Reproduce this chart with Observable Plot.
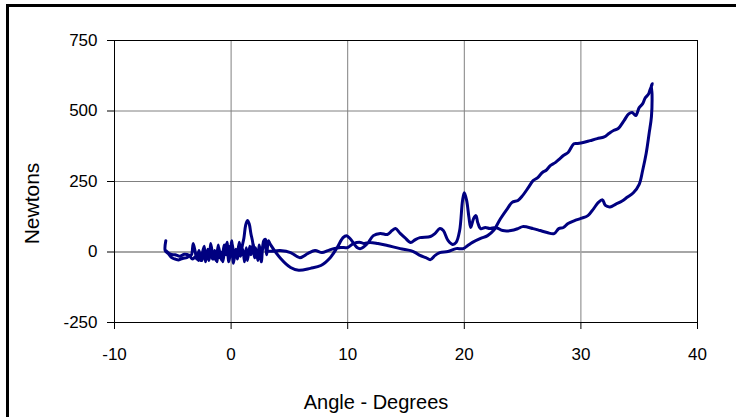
<!DOCTYPE html>
<html>
<head>
<meta charset="utf-8">
<script src="https://cdn.jsdelivr.net/npm/d3@7"></script>
<script src="https://cdn.jsdelivr.net/npm/@observablehq/plot@0.6"></script>
<style>
  html, body { margin: 0; padding: 0; background: #fff; }
  #wrap { position: relative; width: 736px; height: 417px; overflow: hidden; }
  #wrap svg { position: absolute; left: 0; top: 0; }
  #edge { position: absolute; left: 6px; top: 4px; right: -10px; bottom: -10px;
          border-left: 3px solid #000; border-top: 3px solid #000; pointer-events: none; }
</style>
</head>
<body>
<div id="wrap"><div id="edge"></div></div>
<script>
// Loop, in drawing order.
// 1) noisy start, going right from -5.6 deg
const angleStart = [-5.6,-5.65,-5.4,-5.1,-4.8,-4.5,-4.1,-3.8,-3.55,
  -3.4,-3.25,-3.05,-2.95,-2.75,-2.6,-2.5,-2.3,-2.2,-2.0,-1.85,-1.75,-1.5,-1.4,-1.2,-1.1,-0.95,-0.8,-0.6,-0.5,-0.35,-0.2,-0.05,0.05,0.2,0.4,0.5,0.7,0.85,0.95,1.1,1.25,1.4,1.55,1.7,1.85,2.0,2.1,2.3,2.4,2.6,2.7,2.9,3.05,3.2,3.35];
const forceStart = [40,5,-5,-20,-25,-28,-22,-20,-12,
  -10,30,-5,-25,5,-30,-10,20,-35,10,-15,30,-25,5,-35,20,-5,-30,25,-10,35,-35,0,40,-40,10,-20,35,-5,20,50,95,112,100,65,35,-20,15,-30,25,-35,10,35,-10,40,28];
// 2) lower path 4..20 deg, spike at 20, lower branch up to the peak at 36 deg
const angleRise = [4.25,5.1,5.8,6.8,7.7,8.5,9.1,9.6,9.9,10.2,10.8,11.1,11.7,12.2,12.8,13.4,13.8,14.1,14.5,14.9,15.4,15.8,16.2,17.1,17.5,17.9,18.2,18.6,19.0,19.3,19.6,19.85,20.0,20.2,20.4,20.55,20.8,21.0,21.15,21.4,21.8,22.2,22.7,23.3,24.0,24.6,25.0,25.9,26.5,27.1,27.7,28.1,28.5,28.9,29.5,30.0,30.6,31.1,31.5,31.85,32.1,32.5,33.0,33.5,34.0,34.5,35.0,35.3,35.6,35.85,36.05,36.1,36.05,36.14];
const forceRise = [-23,-55,-65,-58,-48,-20,16,51,58,48,16,12,30,58,66,62,76,83,66,51,34,44,51,55,66,83,76,41,27,34,76,183,210,183,122,87,119,129,105,83,87,83,87,76,76,83,90,83,76,69,65,83,87,101,112,119,129,154,176,185,165,160,170,180,195,210,240,290,350,420,480,560,590,597];
// 3) upper branch back down to 22 deg, then the path near zero back to 3 deg
const angleFall = [35.9,35.8,35.5,35.3,35.0,34.7,34.4,34.1,33.7,33.2,32.8,32.4,32.0,31.4,30.8,30.2,29.7,29.4,28.9,28.5,28.2,27.8,27.4,27.0,26.7,26.3,25.9,25.5,25.0,24.6,24.1,23.7,23.1,22.5,22.0,21.4,20.7,20.3,19.9,19.3,18.6,17.9,17.5,17.1,16.7,16.2,15.8,15.4,14.5,13.4,12.6,11.9,11.4,11.1,10.5,10.0,9.4,8.8,8.3,7.8,7.2,6.6,5.9,5.1,4.2,3.1];
const forceFall = [572,560,545,526,512,484,495,490,466,438,431,420,408,402,395,388,385,384,353,342,331,317,307,289,282,264,253,229,200,183,176,154,118,76,58,48,34,23,12,12,2,-2,-12,-27,-20,-12,-2,5,12,23,30,34,30,34,30,16,16,12,5,-2,5,-5,-20,-2,5,5];
// 4) noisy return to -5.6 deg
const angleEnd = [2.95,2.8,2.6,2.5,2.3,2.2,2.05,1.9,1.7,1.6,1.4,1.3,1.15,1.0,0.8,0.7,0.55,0.35,0.25,0.1,-0.1,-0.2,-0.4,-0.5,-0.7,-0.8,-1.0,-1.1,-1.3,-1.4,-1.6,-1.7,-1.9,-2.0,-2.2,-2.3,-2.5,-2.6,-2.8,-3.0,-3.3,-3.6,-4.0,-4.4,-4.8,-5.2,-5.6];
const forceEnd = [45,40,-15,15,-30,5,-20,30,-10,20,-30,15,-35,10,-15,30,-25,5,-25,30,-20,20,-10,25,-35,0,-20,25,-30,-5,-25,15,-30,0,-25,5,-30,-10,-30,-15,-25,-12,-8,-15,-10,-8,5];

const xTicks = [-10, 0, 10, 20, 30, 40];
const yTicks = [-250, 0, 250, 500, 750];
const xTitle = "Angle - Degrees";
const yTitle = "Newtons";

const angle = [...angleStart, ...angleRise, ...angleFall, ...angleEnd];
const newtons = [...forceStart, ...forceRise, ...forceFall, ...forceEnd];
const data = angle.map((a, i) => ({angle: a, newtons: newtons[i]}));
const font = "'Liberation Sans', Arial, sans-serif";

const chart = Plot.plot({
  width: 736,
  height: 417,
  marginLeft: 114,
  marginRight: 39,
  marginTop: 40,
  marginBottom: 95,
  style: {fontFamily: font, background: "#fff", color: "#000"},
  x: {domain: [-10, 40], ticks: xTicks, label: null},
  y: {domain: [-250, 750], ticks: yTicks, label: null},
  marks: [
    Plot.gridX(xTicks.slice(1, -1), {stroke: "#808080", strokeOpacity: 1}),
    Plot.gridY(yTicks.filter(d => d > 0 && d < 750), {stroke: "#808080", strokeOpacity: 1}),
    Plot.ruleY([0], {stroke: "#a6a6a6", strokeWidth: 2}),
    Plot.frame({stroke: "#000"}),
    Plot.line(data, {x: "angle", y: "newtons", stroke: "#000080", strokeWidth: 3, curve: "catmull-rom", strokeLinejoin: "round", strokeLinecap: "round"}),
    Plot.axisX(xTicks, {tickSize: 7, tickPadding: 18, fontSize: 17, stroke: "#000", label: null, tickFormat: d => String(d)}),
    Plot.axisY(yTicks, {tickSize: 7, tickPadding: 10, fontSize: 17, stroke: "#000", label: null, tickFormat: d => String(d)}),
    Plot.text([xTitle], {frameAnchor: "bottom", dx: -30, dy: 86, fontSize: 20, fill: "#000"}),
    Plot.text([yTitle], {frameAnchor: "left", textAnchor: "middle", dx: -82, dy: 22, rotate: -90, fontSize: 21, fill: "#000"})
  ]
});
document.getElementById("wrap").prepend(chart);
</script>
</body>
</html>
